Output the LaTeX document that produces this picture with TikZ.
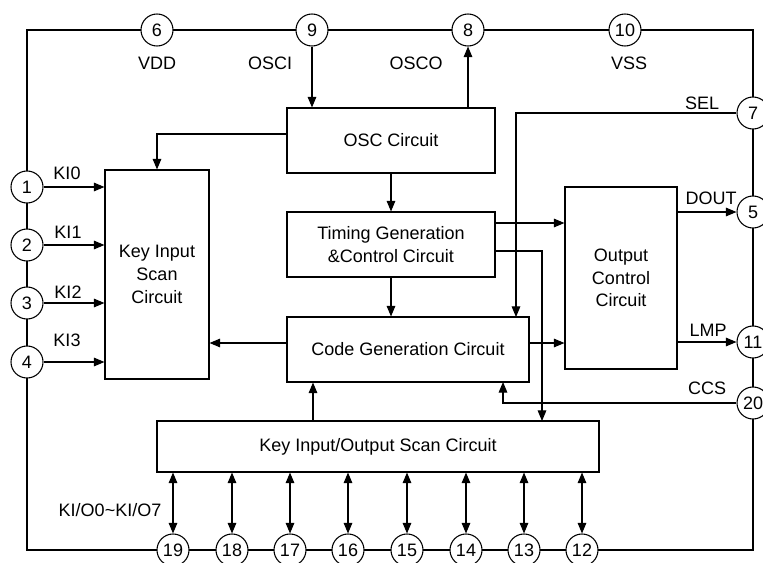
\documentclass[tikz,border=0pt]{standalone}
\usepackage{fontspec}
\setmainfont{Liberation Sans}
\usetikzlibrary{arrows.meta}

\tikzset{
  blk/.style={draw, line width=0.8pt, align=center, inner sep=0pt},
  pin/.style={draw, circle, fill=white, line width=0.8pt, minimum size=24pt, inner sep=0pt},
  sig/.style={line width=0.8pt, -{Triangle[length=8pt,width=6.5pt]}},
  bus/.style={line width=0.8pt, {Triangle[length=8pt,width=6.5pt]}-{Triangle[length=8pt,width=6.5pt]}},
}

\begin{document}
\begin{tikzpicture}[x=0.75pt, y=-0.75pt, font=\fontsize{13.5}{17}\selectfont]
\useasboundingbox (0,0) rectangle (763,563);
%the frame
\draw [line width=1.3pt] (27,30) rectangle (753,550);

%the blocks
\node [blk, minimum width=156pt, minimum height=48.75pt] (osc) at (391,140.5) {OSC Circuit};
\node [blk, minimum width=78pt, minimum height=156.75pt] (kis) at (157,274.5) {Key Input\\Scan\\Circuit};
\node [blk, minimum width=156pt, minimum height=48.75pt] (tim) at (391,244.5) {Timing Generation\\\&Control Circuit};
\node [blk, minimum width=181.5pt, minimum height=48.75pt] (code) at (408,349.5) {Code Generation Circuit};
\node [blk, minimum width=84pt, minimum height=136.5pt] (outc) at (621,278) {Output\\Control\\Circuit};
\node [blk, minimum width=331.5pt, minimum height=38.25pt] (kio) at (378,446.5) {Key Input/Output Scan Circuit};

%the pins
\node [pin] (p6) at (157,30) {6};
\node [pin] (p9) at (312,30) {9};
\node [pin] (p8) at (468,30) {8};
\node [pin] (p10) at (625,30) {10};
\node [pin] (p7) at (753,113) {7};
\node [pin] (p5) at (753,212) {5};
\node [pin] (p11) at (753,342) {11};
\node [pin] (p20) at (753,403) {20};
\node [pin] (p1) at (27,187) {1};
\node [pin] (p2) at (27,245) {2};
\node [pin] (p3) at (27,303) {3};
\node [pin] (p4) at (27,362) {4};
\foreach \n/\x in {19/173,18/232,17/290,16/348,15/407,14/466,13/524,12/582}
  \node [pin] (p\n) at (\x,550) {\n};

%pin names
\node (lvdd) at (157,63) {VDD};
\node (losci) at (270,63) {OSCI};
\node (losco) at (416,63) {OSCO};
\node (lvss) at (629,63) {VSS};
\node (lsel) at (702,103) {SEL};
\node (ldout) at (711,198) {DOUT};
\node (llmp) at (708,330) {LMP};
\node (lccs) at (707,388) {CCS};
\node (lki0) at (67,173) {KI0};
\node (lki1) at (68,232) {KI1};
\node (lki2) at (68,292) {KI2};
\node (lki3) at (67,340) {KI3};
\node (lkio) at (110,510) {KI/O0\textasciitilde KI/O7};

%free ends
\coordinate (oscl) at (287,134);
\coordinate (oscr) at (468,108);
\coordinate (selx) at (516,317);
\coordinate (t1) at (495,223);
\coordinate (t2) at (495,251);
\coordinate (t2d) at (542,421);
\coordinate (c1) at (529,343);
\coordinate (c2) at (287,343);
\coordinate (ccsx) at (503,382);
\coordinate (k1) at (313,421);

%the signals
\draw [sig] (p9) -- (p9 |- osc.north);
\draw [sig] (oscr) -- (p8.south);
\draw [sig] (oscl) -| (kis.north);
\draw [sig] (osc.south) -- (tim.north);
\draw [sig] (tim.south) -- (tim.south |- code.north);
\draw [sig] (p7.west) -| (selx);
\draw [sig] (t1) -- (t1 -| outc.west);
\draw [sig] (t2) -| (t2d);
\draw [sig] (c1) -- (c1 -| outc.west);
\draw [sig] (c2) -- (c2 -| kis.east);
\draw [sig] (outc.east |- p5) -- (p5.west);
\draw [sig] (outc.east |- p11) -- (p11.west);
\draw [sig] (p20.west) -| (ccsx);
\draw [sig] (k1) -- (k1 |- code.south);
\foreach \n in {1,2,3,4}
  \draw [sig] (p\n.east) -- (p\n -| kis.west);
\foreach \n in {19,18,17,16,15,14,13,12}
  \draw [bus] (p\n |- kio.south) -- (p\n.north);
\end{tikzpicture}
\end{document}
